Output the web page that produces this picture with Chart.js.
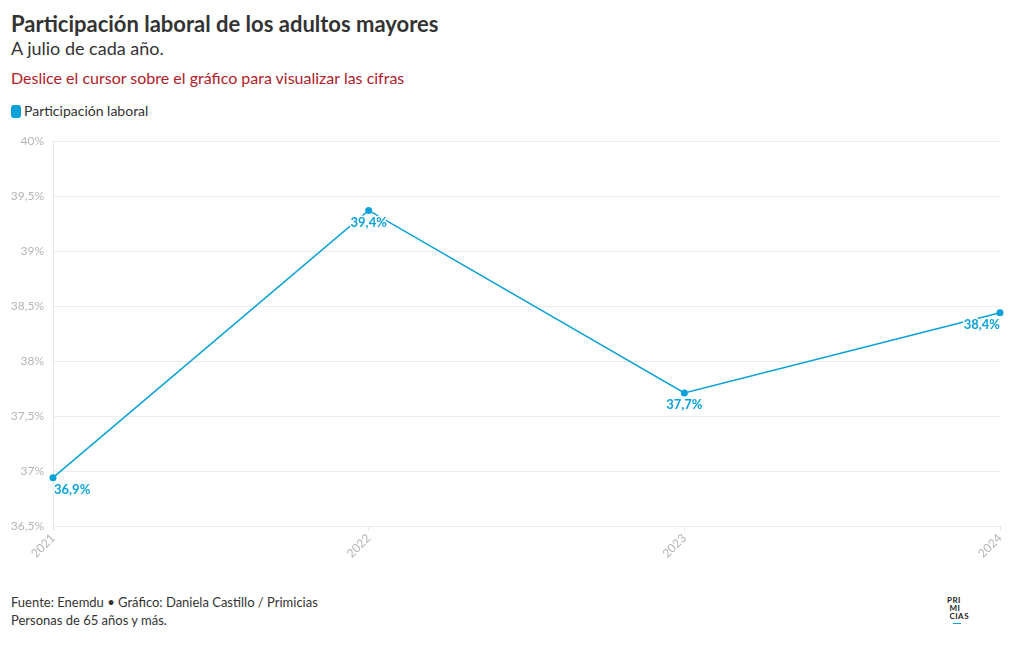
<!DOCTYPE html>
<html>
<head>
<meta charset="utf-8">
<script src="https://cdn.jsdelivr.net/npm/chart.js@4"></script>
<style>
  body { margin: 0; background: #fff; font-family: Lato, "Noto Sans", sans-serif; color: #333; }
  #wrap { position: relative; width: 1020px; height: 650px; }
  .title { position: absolute; left: 11px; top: 10px; font-size: 22px; font-weight: bold; color: #333; }
  .sub { position: absolute; left: 11px; top: 37px; font-size: 18px; color: #333; }
  .hint { position: absolute; left: 11px; top: 68px; font-size: 16px; color: #b0202a; }
  .legend { position: absolute; left: 11px; top: 102px; font-size: 14px; color: #333; }
  .legend span.sw { display: inline-block; width: 10px; height: 13px; border-radius: 3px; background: #0aa1d9; vertical-align: -2px; margin-right: 3px; }
  .foot { position: absolute; left: 11px; top: 593px; font-size: 13px; line-height: 18px; color: #333; }
  .logo { position: absolute; left: 947px; top: 596px; font-size: 8px; font-weight: bold; line-height: 8px; color: #222; letter-spacing: 0.5px; }
  .logo i { display: block; width: 8px; height: 1px; background: #0aa1d9; margin: 3px 0 0 6px; }
  canvas { position: absolute; left: 0; top: 125px; }
</style>
</head>
<body>
<div id="wrap">
  <div class="title">Participación laboral de los adultos mayores</div>
  <div class="sub">A julio de cada año.</div>
  <div class="hint">Deslice el cursor sobre el gráfico para visualizar las cifras</div>
  <div class="legend"><span class="sw"></span>Participación laboral</div>
  <canvas id="chart" width="1020" height="445"></canvas>
  <div class="foot">Fuente: Enemdu • Gráfico: Daniela Castillo / Primicias<br>Personas de 65 años y más.</div>
  <div class="logo">PRI<br>&nbsp;MI<br>&nbsp;CIAS<i></i></div>
</div>
<script>
// datos
const years = ['2021', '2022', '2023', '2024'];
const participacion = [36.94, 39.37, 37.71, 38.44];
const labels = ['36,9%', '39,4%', '37,7%', '38,4%'];

const blue = '#0aa1d9';

// etiquetas bajo cada punto, dentro del area del grafico
const valueLabels = {
  id: 'valueLabels',
  afterDatasetsDraw(chart) {
    const ctx = chart.ctx;
    const area = chart.chartArea;
    const pts = chart.getDatasetMeta(0).data;
    ctx.save();
    ctx.font = 'bold 13px Lato, "Noto Sans", sans-serif';
    ctx.textBaseline = 'middle';
    ctx.textAlign = 'left';
    pts.forEach(function (p, i) {
      const txt = labels[i];
      const w = ctx.measureText(txt).width;
      let x = p.x - w / 2;
      if (x < area.left + 1) x = area.left + 1;
      if (x + w > area.right) x = area.right - w;
      const y = p.y + 12;
      ctx.strokeStyle = '#fff';
      ctx.lineWidth = 3;
      ctx.lineJoin = 'round';
      ctx.strokeText(txt, x, y);
      ctx.fillStyle = blue;
      ctx.fillText(txt, x, y);
    });
    ctx.restore();
  }
};

const ctx = document.getElementById('chart').getContext('2d');
const chart = new Chart(ctx, {
  type: 'line',
  data: {
    labels: years,
    datasets: [{
      label: 'Participación laboral',
      data: participacion,
      borderColor: blue,
      backgroundColor: blue,
      borderWidth: 1.5,
      pointRadius: 3.5,
      pointBorderWidth: 0,
      tension: 0
    }]
  },
  options: {
    responsive: false,
    animation: false,
    layout: { padding: { top: 16, right: 20, left: 0, bottom: 0 } },
    plugins: {
      legend: { display: false },
      tooltip: { enabled: false }
    },
    scales: {
      x: {
        offset: false,
        grid: { drawOnChartArea: false, drawTicks: true, tickLength: 5, color: '#e6e6e6' },
        border: { display: false },
        ticks: {
          color: '#b5b5b5',
          font: { family: 'Lato', size: 12 },
          maxRotation: 45,
          minRotation: 45,
          padding: 0
        },
        afterFit(s) { s.height = 44; }
      },
      y: {
        min: 36.5,
        max: 40,
        grid: { color: '#ececec', drawTicks: false },
        border: { color: '#e6e6e6' },
        ticks: {
          stepSize: 0.5,
          padding: 9,
          color: '#b5b5b5',
          font: { family: 'Lato', size: 12 },
          callback: v => String(v).replace('.', ',') + '%'
        },
        afterFit(s) { s.width = 53; }
      }
    }
  },
  plugins: [valueLabels]
});
</script>
</body>
</html>
